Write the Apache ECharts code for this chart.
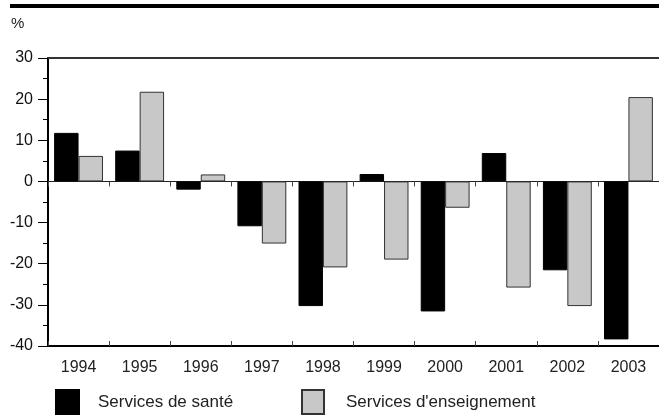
<!DOCTYPE html>
<html>
<head>
<meta charset="utf-8">
<script src="https://cdn.jsdelivr.net/npm/echarts@6/dist/echarts.min.js"></script>
<style>html,body{margin:0;padding:0;background:#fff}#c{width:659px;height:417px}</style>
</head>
<body>
<div id="c"></div>
<script>
const years = ['1994','1995','1996','1997','1998','1999','2000','2001','2002','2003'];
const sante = [11.8, 7.5, -2.0, -10.9, -30.3, 1.8, -31.6, 6.9, -21.6, -38.4];
const enseignement = [6.2, 21.8, 1.7, -15.1, -20.9, -19.0, -6.4, -25.8, -30.3, 20.5];
const yTicks = [-40, -30, -20, -10, 0, 10, 20, 30];
const seriesNames = ['Services de santé', "Services d'enseignement"];

const font = 'Liberation Sans, Arial, sans-serif';
const chart = echarts.init(document.getElementById('c'), null, {renderer: 'canvas'});
chart.setOption({
  animation: false,
  title: {text: '%', left: 11, top: 16, padding: 0, textStyle: {fontFamily: font, fontSize: 15, fontWeight: 'normal', color: '#222'}},
  graphic: [{type: 'rect', left: 10, top: 4, shape: {width: 660, height: 4}, style: {fill: '#000'}}],
  legend: [
    {data: [seriesNames[0]], left: 55, top: 389, padding: 0, itemWidth: 23, itemHeight: 24, icon: 'rect',
     textStyle: {fontFamily: font, fontSize: 17, color: '#222', padding: [8, 0, 0, 14]}},
    {data: [seriesNames[1]], left: 301, top: 389, padding: 0, itemWidth: 22, itemHeight: 24, icon: 'rect',
     textStyle: {fontFamily: font, fontSize: 17, color: '#222', padding: [8, 0, 0, 17]}}
  ],
  grid: {left: 48, right: -2, top: 58, bottom: 71},
  xAxis: [
    {type: 'category', data: years, position: 'bottom', axisLine: {onZero: false, lineStyle: {color: '#000', width: 2}},
     axisTick: {show: false}, axisLabel: {fontFamily: font, fontSize: 16, color: '#222', margin: 14}},
    {type: 'category', data: years, position: 'bottom', axisLine: {onZero: true, lineStyle: {color: '#222', width: 1}},
     axisTick: {show: true, inside: false, length: 5, lineStyle: {color: '#444'}}, axisLabel: {show: false}},
    {type: 'category', data: years, position: 'bottom', axisLine: {onZero: true, show: false},
     axisTick: {show: true, inside: true, length: 5, lineStyle: {color: '#444'}}, axisLabel: {show: false}},
    {type: 'category', data: years, position: 'top', axisLine: {lineStyle: {color: '#333', width: 2}},
     axisTick: {show: false}, axisLabel: {show: false}}
  ],
  yAxis: {
    type: 'value', min: yTicks[0], max: yTicks[yTicks.length - 1], interval: 10,
    axisLine: {show: true, lineStyle: {color: '#000', width: 2}},
    axisTick: {show: true, length: 10, lineStyle: {color: '#000'}},
    minorTick: {show: true, splitNumber: 2, length: 5, lineStyle: {color: '#000'}},
    splitLine: {show: false},
    axisLabel: {fontFamily: font, fontSize: 16, color: '#111', margin: 15}
  },
  series: [
    {name: seriesNames[0], type: 'bar', data: sante, xAxisIndex: 0, barGap: '0%', barCategoryGap: '20%',
     itemStyle: {color: '#000', borderColor: '#000', borderWidth: 1}},
    {name: seriesNames[1], type: 'bar', data: enseignement, xAxisIndex: 0, barGap: '0%', barCategoryGap: '20%',
     itemStyle: {color: '#c8c8c8', borderColor: '#333', borderWidth: 1}}
  ]
});
</script>
</body>
</html>
